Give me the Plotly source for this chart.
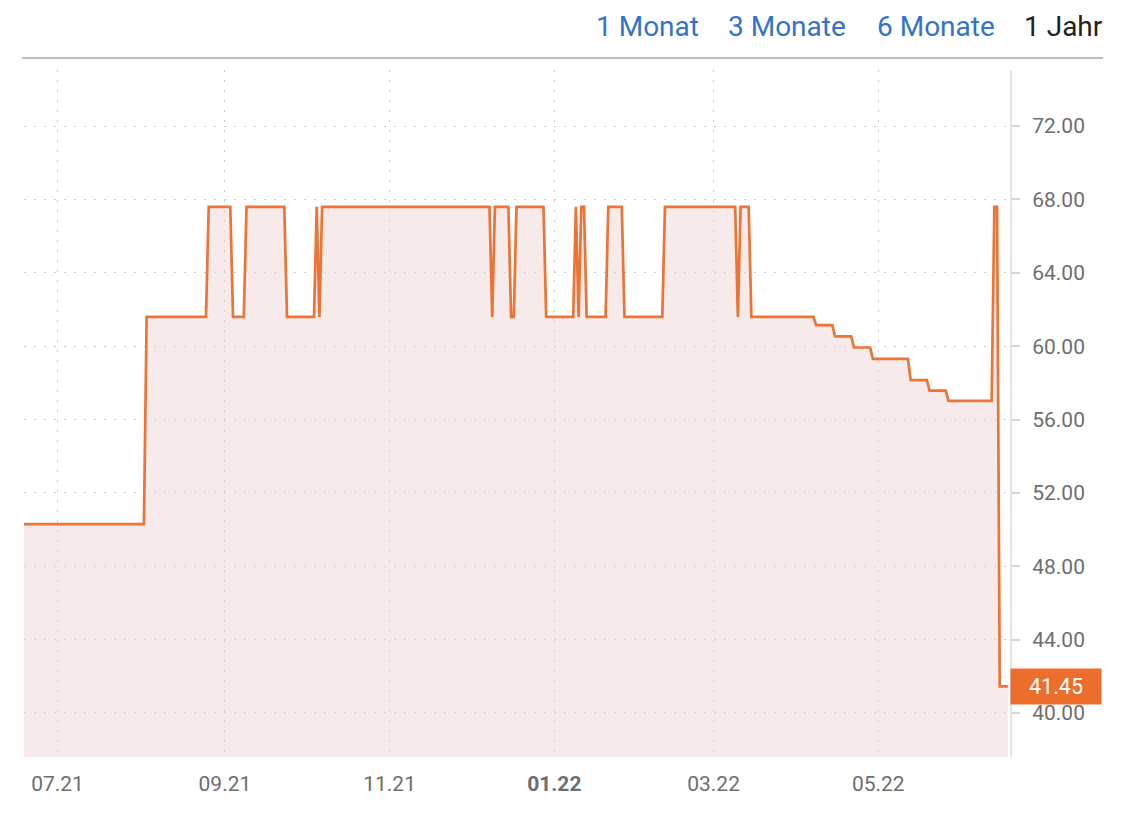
import plotly.graph_objects as go

# ---- data ----
dates = [
    "2021-06-18", "2021-08-02", "2021-08-03", "2021-08-25", "2021-08-26",
    "2021-09-03", "2021-09-04", "2021-09-08", "2021-09-09", "2021-09-23",
    "2021-09-24", "2021-10-04", "2021-10-05", "2021-10-06", "2021-10-07",
    "2021-12-08", "2021-12-09", "2021-12-10", "2021-12-15", "2021-12-16",
    "2021-12-17", "2021-12-18", "2021-12-28", "2021-12-29", "2022-01-08",
    "2022-01-09", "2022-01-10", "2022-01-11", "2022-01-12", "2022-01-13",
    "2022-01-20", "2022-01-21", "2022-01-26", "2022-01-27", "2022-02-10",
    "2022-02-11", "2022-03-09", "2022-03-10", "2022-03-11", "2022-03-14",
    "2022-03-15", "2022-04-07", "2022-04-08", "2022-04-14", "2022-04-15",
    "2022-04-21", "2022-04-22", "2022-04-28", "2022-04-29", "2022-05-12",
    "2022-05-13", "2022-05-19", "2022-05-20", "2022-05-26", "2022-05-27",
    "2022-06-12", "2022-06-13", "2022-06-14", "2022-06-15", "2022-06-18",
]
prices = [
    50.30, 50.30, 61.60, 61.60, 67.60,
    67.60, 61.60, 61.60, 67.60, 67.60,
    61.60, 61.60, 67.60, 61.60, 67.60,
    67.60, 61.60, 67.60, 67.60, 61.60,
    61.60, 67.60, 67.60, 61.60, 61.60,
    67.60, 61.60, 67.60, 67.60, 61.60,
    61.60, 67.60, 67.60, 61.60, 61.60,
    67.60, 67.60, 61.60, 67.60, 67.60,
    61.60, 61.60, 61.15, 61.15, 60.53,
    60.53, 59.93, 59.93, 59.31, 59.31,
    58.15, 58.15, 57.58, 57.58, 57.02,
    57.02, 67.60, 67.60, 41.45, 41.45,
]

x_tick_vals = ["2021-07-01", "2021-09-01", "2021-11-01", "2022-01-01", "2022-03-01", "2022-05-01"]
x_tick_text = ["07.21", "09.21", "11.21", "<b>01.22</b>", "03.22", "05.22"]
y_tick_vals = [40, 44, 48, 52, 56, 60, 64, 68, 72]
range_buttons = ["1 Monat", "3 Monate", "6 Monate", "1 Jahr"]
active_button = "1 Jahr"

LINE = "#ec7434"
FILL = "rgba(237,213,213,0.5)"
GRID = "#c9c9c9"
LABEL = "#6e6e6e"
FONT = "Roboto"

# figure is placed at (8, 8) by the page's default body margin
W, H = 1120, 824
L, R, T, B = 16, 118, 62, 75
PW = W - L - R

fig = go.Figure()
fig.add_trace(go.Scatter(
    x=dates, y=prices, mode="lines",
    line=dict(color=LINE, width=2.7),
    fill="tozeroy", fillcolor=FILL,
    hoverinfo="skip", showlegend=False,
))

last_val = prices[-1]

fig.update_layout(
    width=W, height=H,
    margin=dict(l=L, r=R, t=T, b=B),
    paper_bgcolor="white", plot_bgcolor="white",
    font=dict(family=FONT, size=21, color=LABEL),
    xaxis=dict(
        type="date",
        range=["2021-06-18 14:00", "2022-06-18 19:00"],
        tickvals=x_tick_vals, ticktext=x_tick_text,
        showgrid=True, gridcolor=GRID, griddash="2px,8px", gridwidth=1,
        showline=False, zeroline=False, ticks="",
        tickfont=dict(family=FONT, size=21, color=LABEL),
        ticklabelstandoff=12,
    ),
    yaxis=dict(
        side="right",
        range=[37.6, 75.06],
        tickvals=y_tick_vals, tickformat=".2f",
        showgrid=True, gridcolor=GRID, griddash="2px,8px", gridwidth=1,
        showline=True, linecolor="#e3e3e3", linewidth=2,
        ticks="outside", ticklen=8, tickcolor="#d6d6d6", tickwidth=1.5,
        zeroline=False,
        tickfont=dict(family=FONT, size=21, color=LABEL),
        ticklabelstandoff=8,
    ),
)

# separator line under range selector (screen y = 58)
sep_y = (H - B - (58 - 8)) / (H - T - B)
fig.add_shape(type="line", xref="paper", yref="paper",
              x0=(14 - L) / PW, x1=(1095 - L) / PW, y0=sep_y, y1=sep_y,
              line=dict(color="#bdbdbd", width=2))

# range selector texts
btn_x = [586, 718, 867, 1014]   # figure px (left edge)
btn_y = (H - B - (26 - 8)) / (H - T - B)
for txt, px in zip(range_buttons, btn_x):
    fig.add_annotation(
        text=txt, xref="paper", yref="paper",
        x=(px - L) / PW, y=btn_y, xanchor="left", yanchor="middle",
        showarrow=False,
        font=dict(family=FONT, size=28,
                  color="#222222" if txt == active_button else "#3473c8"),
    )

# last value badge
fig.add_annotation(
    text=f"{last_val:.2f}", xref="paper", yref="y",
    x=1.0005, y=last_val, xanchor="left", yanchor="middle",
    showarrow=False, bgcolor="#ed6d2c", borderpad=4,
    width=82, height=27, align="center",
    font=dict(family=FONT, size=21.5, color="white"),
)
fig.add_shape(type="line", xref="paper", yref="y",
              x0=1.002, x1=1.0095, y0=last_val, y1=last_val,
              line=dict(color="white", width=2))

fig.write_html("out.html")
